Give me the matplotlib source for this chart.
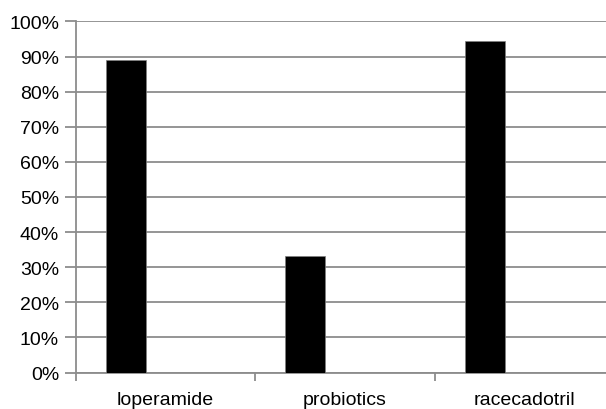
import matplotlib
matplotlib.use("Agg")
import matplotlib.pyplot as plt
import numpy as np

categories = ["loperamide", "probiotics", "racecadotril"]
values = [0.89, 0.332, 0.943]
yticks = [0.0, 0.1, 0.2, 0.3, 0.4, 0.5, 0.6, 0.7, 0.8, 0.9, 1.0]
ytick_labels = ["0%", "10%", "20%", "30%", "40%", "50%", "60%", "70%", "80%", "90%", "100%"]

plt.rcParams['font.family'] = ['Liberation Sans', 'DejaVu Sans']

fig = plt.figure(figsize=(6.06, 4.10), dpi=100)
ax = fig.add_axes([75.7/606, 36.4/410, 538.5/606, 351.2/410])

gray = "#8c8c8c"
w = 1/4.5
x = np.arange(len(categories))
ax.bar(x - w, values, width=w, color="black", edgecolor="#7f7f7f", linewidth=0.5, zorder=3)

ax.set_xlim(-0.5, 2.5)
ax.set_ylim(0, 1.0)
ax.set_yticks(yticks)
ax.set_yticklabels(ytick_labels, fontsize=14)
ax.yaxis.grid(True, color=gray, linewidth=1.3, zorder=0)
ax.set_axisbelow(True)

ax.set_xticks(x)
ax.set_xticklabels(categories, fontsize=14)
ax.set_xticks([-0.5, 0.5, 1.5, 2.5], minor=True)
ax.tick_params(axis='x', which='major', length=0, pad=13)
ax.tick_params(axis='x', which='minor', length=6, width=1.3, color=gray, direction='out')
ax.tick_params(axis='y', length=8, width=1.3, color=gray, pad=4)

for s in ["top", "right"]:
    ax.spines[s].set_visible(False)
for s in ["left", "bottom"]:
    ax.spines[s].set_color(gray)
    ax.spines[s].set_linewidth(1.3)

fig.savefig("out.png", dpi=100)
